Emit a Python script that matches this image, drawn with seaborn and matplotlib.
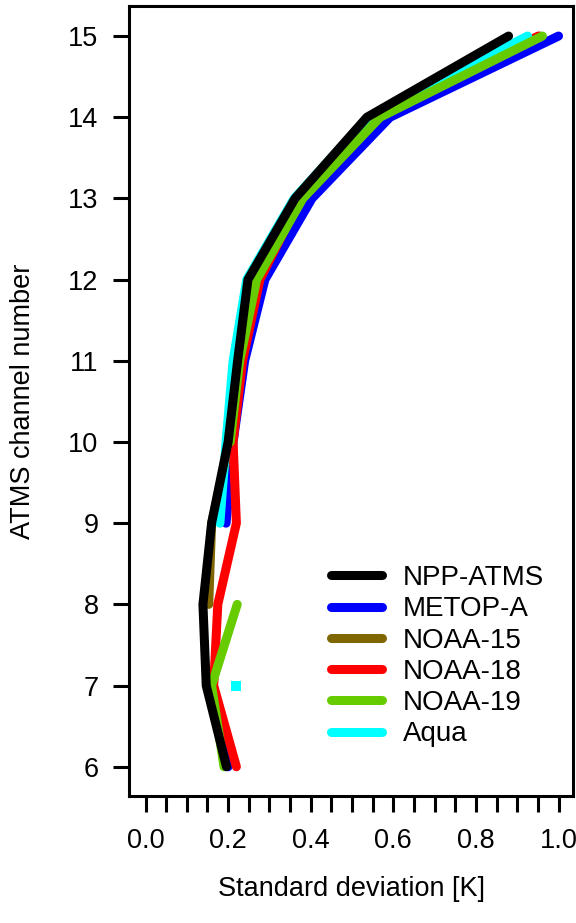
import numpy as np
import pandas as pd
import matplotlib
matplotlib.use("Agg")
import matplotlib.pyplot as plt
import seaborn as sns
from matplotlib.lines import Line2D

nan = np.nan
channels = [6, 7, 8, 9, 10, 11, 12, 13, 14, 15]
npp_atms = [0.196, 0.147, 0.139, 0.160, 0.200, 0.223, 0.248, 0.362, 0.536, 0.879]
metop_a = [0.200, 0.155, nan, 0.195, 0.212, 0.240, 0.289, 0.403, 0.592, 1.000]
noaa_15 = [nan, nan, 0.153, 0.160, 0.205, 0.228, 0.265, 0.378, 0.562, 0.955]
noaa_18 = [0.220, 0.165, 0.175, 0.220, 0.212, 0.235, 0.277, 0.375, 0.560, 0.951]
noaa_19 = [0.190, 0.160, 0.222, nan, 0.205, 0.228, 0.269, 0.381, 0.568, 0.961]
aqua = [nan, 0.218, nan, 0.180, 0.195, 0.212, 0.245, 0.360, 0.540, 0.925]

series_names = ["NPP-ATMS", "METOP-A", "NOAA-15", "NOAA-18", "NOAA-19", "Aqua"]
series_values = [npp_atms, metop_a, noaa_15, noaa_18, noaa_19, aqua]
colors = ["#000000", "#0000FF", "#806600", "#FF0000", "#66CC00", "#00FFFF"]
zorders = [8, 3, 4, 5, 7, 6]

x_ticks = np.round(np.arange(0, 1.0001, 0.05), 2)
x_labels = ["0.0", "0.2", "0.4", "0.6", "0.8", "1.0"]

sns.set_theme(style="white")
plt.rcParams["font.family"] = ["Liberation Sans", "DejaVu Sans"]
plt.rcParams["text.color"] = "black"
plt.rcParams["axes.labelcolor"] = "black"
plt.rcParams["xtick.color"] = "black"
plt.rcParams["ytick.color"] = "black"

fig = plt.figure(figsize=(5.76, 9.23), dpi=100)
ax = fig.add_axes([129 / 576, 1 - 796 / 923, (573 - 129) / 576, (796 - 6) / 923])

LW = 6.5
for name, vals, col, z in zip(series_names, series_values, colors, zorders):
    df = pd.DataFrame({"channel": channels, "sd": vals})
    df["seg"] = df["sd"].isna().cumsum()
    df = df.dropna()
    for s, g in df.groupby("seg"):
        if len(g) > 1:
            sns.lineplot(data=g, x="sd", y="channel", sort=False, estimator=None,
                         color=col, lw=LW, ax=ax, zorder=z,
                         solid_capstyle="round", solid_joinstyle="round")
        else:
            sns.scatterplot(data=g, x="sd", y="channel", marker="s", s=LW ** 2,
                            color=col, linewidth=0, ax=ax, zorder=z)

ax.set_xlim(-0.04, 1.035)
ax.set_ylim(5.64, 15.37)
ax.set_xticks(x_ticks)
label_map = {round(float(l), 2): l for l in x_labels}
ax.set_xticklabels([label_map.get(round(float(t), 2), "") for t in x_ticks])
ax.set_yticks(channels)
ax.set_yticklabels([str(c) for c in channels])
ax.tick_params(axis="both", direction="out", length=11.5, width=2.2, color="black",
               labelcolor="black", labelsize=19.5, bottom=True, left=True)
ax.tick_params(axis="x", pad=11.5)
ax.tick_params(axis="y", pad=10.5)
for sp in ax.spines.values():
    sp.set_visible(True)
    sp.set_color("black")
    sp.set_linewidth(2.2)

ax.set_xlabel("Standard deviation [K]", fontsize=19.5, labelpad=16, color="black")
ax.set_ylabel("ATMS channel number", fontsize=19.5, labelpad=23, color="black")

handles = [Line2D([0], [0], color=c, lw=LW, solid_capstyle="round") for c in colors]
leg = ax.legend(handles, series_names, loc="upper left",
                bbox_to_anchor=(331 / 576, 1 - 565 / 923), bbox_transform=fig.transFigure,
                frameon=False, fontsize=20, handlelength=1.85, handletextpad=0.75,
                labelspacing=0.19, borderpad=0, borderaxespad=0)
for t in leg.get_texts():
    t.set_color("black")

fig.savefig("out.png", dpi=100)
